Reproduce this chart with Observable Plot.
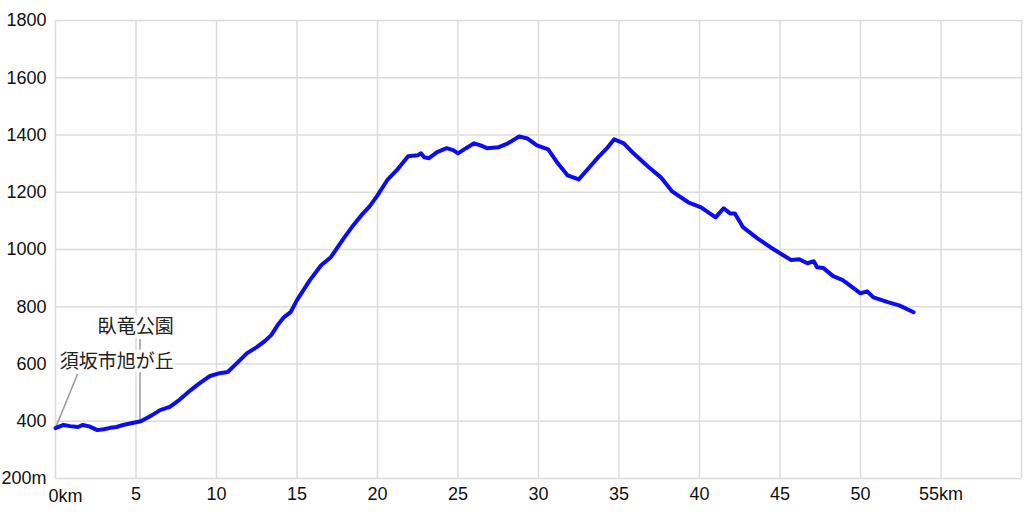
<!DOCTYPE html>
<html>
<head>
<meta charset="utf-8">
<script src="https://cdn.jsdelivr.net/npm/d3@7"></script>
<script src="https://cdn.jsdelivr.net/npm/@observablehq/plot@0.6"></script>
<style>
  html, body { margin: 0; padding: 0; background: #fff; }
  #chart svg { display: block; }
</style>
</head>
<body>
<div id="chart"></div>
<script>
// Elevation profile (km, metres)
const distanceKm = [0, 0.5, 0.9, 1.4, 1.7, 2.1, 2.6, 3.0, 3.4, 3.8, 4.2, 4.7, 5.3, 5.9, 6.5, 7.1, 7.7, 8.4, 9.0, 9.6,
  10.2, 10.7, 11.3, 11.9, 12.5, 13.0, 13.4, 13.8, 14.2, 14.6, 15.0, 15.8, 16.5, 17.1, 17.9, 18.5, 19.0, 19.5,
  20.0, 20.6, 21.2, 21.9, 22.5, 22.7, 22.9, 23.2, 23.7, 24.3, 24.7, 25.0, 25.5, 26.0, 26.4, 26.8, 27.5, 28.1,
  28.8, 29.3, 29.9, 30.6, 31.2, 31.8, 32.5, 33.0, 33.7, 34.3, 34.7, 35.3, 35.9, 36.8, 37.6, 38.3, 39.3, 40.1,
  41.0, 41.5, 41.9, 42.2, 42.7, 43.6, 44.4, 45.2, 45.7, 46.2, 46.7, 47.1, 47.3, 47.7, 48.3, 48.9, 50.0, 50.4,
  50.8, 51.7, 52.4, 53.3];
const elevationM = [376, 387, 383, 380, 387, 382, 369, 372, 377, 380, 387, 393, 400, 418, 439, 450, 475, 509, 535, 558,
  568, 572, 605, 638, 659, 680, 701, 736, 764, 781, 823, 893, 945, 973, 1039, 1085, 1120, 1150,
  1189, 1242, 1277, 1326, 1329, 1336, 1322, 1319, 1340, 1354, 1347, 1336, 1354, 1371, 1364, 1354, 1357, 1371,
  1395, 1388, 1364, 1350, 1301, 1259, 1245, 1277, 1322, 1357, 1385, 1371, 1336, 1290, 1252, 1203, 1165, 1147,
  1112, 1144, 1126, 1126, 1078, 1039, 1008, 980, 963, 966, 952, 959, 938, 935, 907, 893, 847, 854,
  833, 816, 805, 781];

// Axis ticks
const xGridKm = [0, 5, 10, 15, 20, 25, 30, 35, 40, 45, 50, 55, 60];
const xTickKm = [5, 10, 15, 20, 25, 30, 35, 40, 45, 50, 55];
const yTicksM = [200, 400, 600, 800, 1000, 1200, 1400, 1600, 1800];

// Annotations: label, point on the profile, label anchor position, leader end
const annoLabels = ["須坂市旭が丘", "臥竜公園"];
const annoKm = [0, 5.25];
const annoElev = [376, 400];
const annoLabelKm = [3.8, 4.98];
const annoLabelElev = [607, 729];
const annoLeaderKm = [1.37, 5.25];
const annoLeaderElev = [565, 687];

const profile = distanceKm.map((d, i) => ({km: d, elev: elevationM[i]}));
const annos = annoLabels.map((t, i) => ({
  label: t, km: annoKm[i], elev: annoElev[i],
  lx: annoLabelKm[i], ly: annoLabelElev[i],
  ex: annoLeaderKm[i], ey: annoLeaderElev[i]
}));

const font = "'Liberation Sans', Arial, sans-serif";

const chart = Plot.plot({
  width: 1024,
  height: 512,
  marginTop: 20,
  marginRight: 3,
  marginBottom: 34,
  marginLeft: 55,
  style: {fontFamily: font, background: "#fff", color: "#111"},
  x: {domain: [0, 60], label: null},
  y: {domain: [200, 1800], label: null},
  marks: [
    Plot.gridX(xGridKm, {stroke: "#dcdcdc", strokeOpacity: 1, strokeWidth: 1.5}),
    Plot.gridY(yTicksM, {stroke: "#dcdcdc", strokeOpacity: 1, strokeWidth: 1.5}),
    Plot.axisY(yTicksM, {
      tickSize: 0, tickPadding: 9, fontSize: 18, fill: "#111",
      tickFormat: d => d === 200 ? "200m" : String(d)
    }),
    Plot.axisX(xTickKm, {
      tickSize: 0, tickPadding: 9, fontSize: 18, fill: "#111",
      tickFormat: d => d === 55 ? "55km" : String(d)
    }),
    Plot.text([0], {x: d => d, frameAnchor: "bottom", dy: 18, dx: -7, text: () => "0km",
      textAnchor: "start", lineAnchor: "middle", fontSize: 18, fill: "#111"}),
    Plot.link(annos, {x1: "km", y1: "elev", x2: "ex", y2: "ey", stroke: "#999", strokeWidth: 1.5}),
    Plot.text(annos, {x: "lx", y: "ly", text: "label", fontSize: 19, fill: "#222",
      fontFamily: "'Noto Sans CJK JP', sans-serif",
      stroke: "white", strokeWidth: 7, strokeLinejoin: "round"}),
    Plot.line(profile, {x: "km", y: "elev", stroke: "#0c0cf2", strokeWidth: 4,
      strokeLinejoin: "round", strokeLinecap: "round"})
  ]
});

document.getElementById("chart").appendChild(chart);
</script>
</body>
</html>
